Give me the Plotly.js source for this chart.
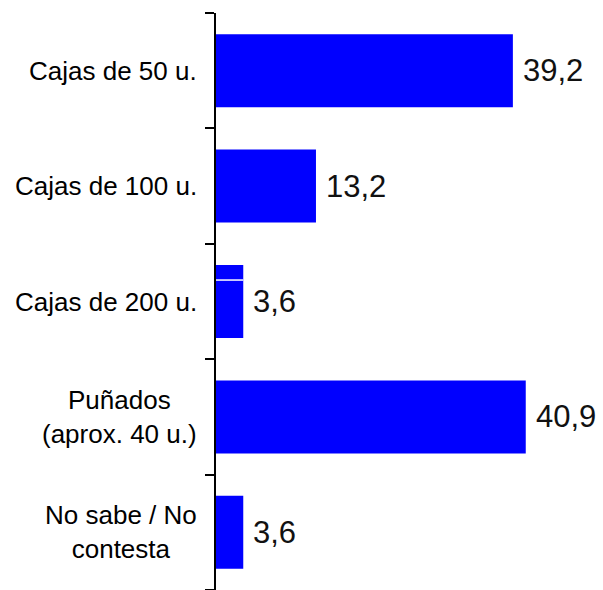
<!DOCTYPE html>
<html>
<head>
<meta charset="utf-8">
<script src="https://cdn.plot.ly/plotly-3.0.1.min.js"></script>
<style>html,body{margin:0;padding:0;background:#fff;}#chart{width:603px;height:590px;}</style>
</head>
<body>
<div id="chart"></div>
<script>
const categories = ["Cajas de 50 u.", "Cajas de 100 u.", "Cajas de 200 u.", "Puñados<br>(aprox. 40 u.)", "No sabe / No<br>contesta"];
const values = [39.2, 13.2, 3.6, 40.9, 3.6];
const valueLabels = ["39,2", "13,2", "3,6", "40,9", "3,6"];

const idx = categories.map((c, i) => i);

const trace = {
  type: 'bar',
  orientation: 'h',
  x: values,
  y: idx,
  marker: {color: '#0000FF', line: {width: 0}},
  hoverinfo: 'skip'
};

const annotations = [];
categories.forEach((c, i) => {
  annotations.push({
    xref: 'paper', yref: 'y', x: 0, y: i,
    text: c, showarrow: false, xanchor: 'right', yanchor: 'middle',
    align: 'center', xshift: -17,
    font: {family: 'Arial, "Liberation Sans", sans-serif', size: 26, color: '#000'}
  });
  annotations.push({
    xref: 'x', yref: 'y', x: values[i], y: i,
    text: valueLabels[i], showarrow: false, xanchor: 'left', yanchor: 'middle',
    xshift: 8,
    font: {family: 'Arial, "Liberation Sans", sans-serif', size: 31, color: '#111'}
  });
});

const layout = {
  width: 603, height: 590,
  margin: {l: 216, r: 0, t: 13, b: 0, pad: 0},
  paper_bgcolor: '#fff', plot_bgcolor: '#fff',
  showlegend: false,
  bargap: 0.367,
  xaxis: {range: [0, 51.1], visible: false, fixedrange: true},
  yaxis: {
    range: [categories.length - 0.5, -0.5],
    tickmode: 'array',
    tickvals: idx.map(i => i - 0.5).concat([categories.length - 0.5]),
    ticktext: idx.map(() => '').concat(['']),
    showticklabels: false,
    ticks: 'outside', ticklen: 9, tickwidth: 2, tickcolor: '#000',
    showline: true, linecolor: '#000', linewidth: 2,
    showgrid: false, zeroline: false, fixedrange: true
  },
  shapes: [{
    type: 'line', xref: 'x', yref: 'y',
    x0: 0, x1: values[2], y0: 2 - 0.186, y1: 2 - 0.186,
    line: {color: '#fff', width: 1.5}
  }],
  annotations: annotations
};

Plotly.newPlot('chart', [trace], layout, {displayModeBar: false, staticPlot: true});
</script>
</body>
</html>
